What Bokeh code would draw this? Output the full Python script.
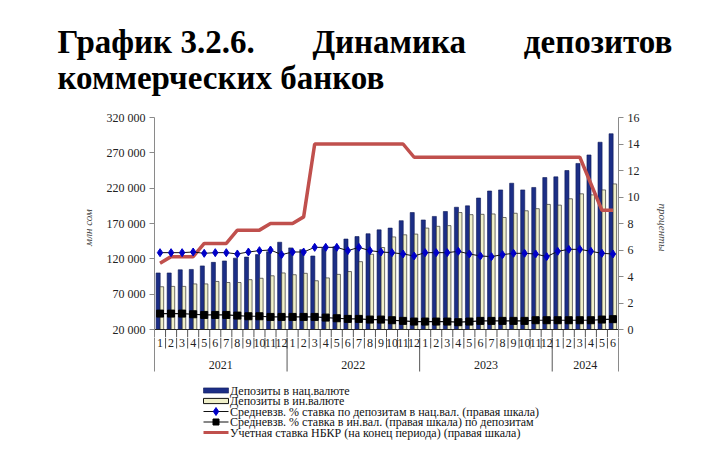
from bokeh.plotting import figure
from bokeh.layouts import column
from bokeh.models import (Range1d, LinearAxis, FixedTicker, Title, ColumnDataSource)
from bokeh.embed import file_html
from bokeh.resources import INLINE
from bokeh.core.properties import value

# ---------------- data ----------------
month_labels = ["1", "2", "3", "4", "5", "6", "7", "8", "9", "10", "11", "12",
                "1", "2", "3", "4", "5", "6", "7", "8", "9", "10", "11", "12",
                "1", "2", "3", "4", "5", "6", "7", "8", "9", "10", "11", "12",
                "1", "2", "3", "4", "5", "6"]
years = ["2021", "2022", "2023", "2024"]
year_months = [12, 12, 12, 6]

dep_nat = [100000, 100000, 104500, 105000, 110000, 115000, 117000, 121000, 122500, 126000, 130000, 143500,
           135500, 133000, 124000, 135000, 137000, 148000, 151500, 155500, 161000, 163500, 174000, 185500,
           175000, 180000, 187000, 193000, 195000, 206000, 216000, 217500, 227000, 217500, 221000, 235000,
           236000, 245000, 255000, 267000, 285000, 297000]
dep_for = [80500, 81000, 81000, 84500, 84500, 88000, 86500, 86500, 90500, 92500, 96000, 100000,
           97500, 99500, 89000, 93000, 98000, 102000, 116000, 126500, 136000, 151000, 154000, 155000,
           163500, 166000, 167000, 185500, 182500, 183000, 183500, 178500, 184500, 188000, 191000, 197000,
           196000, 205000, 212000, 210500, 217500, 226000]
rate_nat = [5.8, 5.8, 5.8, 5.85, 5.75, 5.8, 5.8, 5.7, 5.85, 5.95, 6.0, 5.65,
            5.85, 5.85, 6.2, 6.2, 6.2, 5.95, 6.2, 5.95, 5.85, 5.8, 5.7, 5.55,
            5.8, 5.8, 5.8, 5.9, 5.7, 5.55, 5.5, 5.65, 5.75, 5.75, 5.7, 5.5,
            5.9, 6.05, 6.05, 5.9, 5.75, 5.7]
rate_for = [1.2, 1.2, 1.2, 1.15, 1.1, 1.1, 1.1, 1.05, 1.0, 1.0, 0.95, 0.95,
            0.95, 0.95, 0.95, 0.9, 0.85, 0.8, 0.8, 0.75, 0.75, 0.7, 0.65, 0.6,
            0.6, 0.6, 0.6, 0.55, 0.6, 0.65, 0.65, 0.65, 0.65, 0.65, 0.7, 0.7,
            0.7, 0.7, 0.7, 0.7, 0.75, 0.78]
policy = [5.0, 5.5, 5.5, 5.5, 6.5, 6.5, 6.5, 7.5, 7.5, 7.5, 8.0, 8.0,
          8.0, 8.5, 14, 14, 14, 14, 14, 14, 14, 14, 14, 13,
          13, 13, 13, 13, 13, 13, 13, 13, 13, 13, 13, 13,
          13, 13, 13, 11, 9, 9]

left_ticks = [20000, 70000, 120000, 170000, 220000, 270000, 320000]
left_tick_labels = ["20 000", "70 000", "120 000", "170 000", "220 000", "270 000", "320 000"]
right_ticks = [0, 2, 4, 6, 8, 10, 12, 14, 16]

title_line1 = ["График 3.2.6.", "Динамика", "депозитов"]
title_line2 = "коммерческих банков"
legend_labels = ["Депозиты в нац.валюте",
                 "Депозиты в ин.валюте",
                 " Средневзв. % ставка по депозитам в нац.вал.  (правая шкала)",
                 "Средневзв. % ставка в ин.вал.  (правая шкала) по депозитам",
                 "Учетная ставка НБКР (на конец периода) (правая шкала)"]

SERIF = "Liberation Serif"

# ---------------- geometry (page pixels) ----------------
W, HPAGE = 720, 457
FL, FR = 154, 618          # plot frame left / right
FT = 116                   # y of 320 000 / 16 %
Y0 = 328                   # y of 20 000 / 0 %
MAIN_H = 336               # main figure ends a little below the base line
BOT_H = HPAGE - MAIN_H     # category band + legend figure

ymin_val, ymax_val = 20000, 320000
per_px = (ymax_val - ymin_val) / (Y0 - FT)
r_per_px = 16 / (Y0 - FT)
main_low = ymin_val - (MAIN_H - Y0) * per_px
n = len(month_labels)
xc = [i + 0.5 for i in range(n)]


def xd(px):                # page x -> month units
    return (px - FL) * n / (FR - FL)


def yb(py):                # page y -> bottom-figure units (pixels up from page bottom)
    return HPAGE - py


# ---------------- main chart ----------------
p = figure(width=W, height=MAIN_H, output_backend="svg", toolbar_location=None,
           x_range=Range1d(0, n), y_range=Range1d(main_low, ymax_val),
           min_border_left=FL, min_border_top=FT, min_border_right=W - FR,
           min_border_bottom=0, frame_width=FR - FL, frame_height=MAIN_H - FT)
p.extra_y_ranges = {"right": Range1d(-(MAIN_H - Y0) * r_per_px, 16)}
p.outline_line_color = None
p.grid.visible = False
p.xaxis.visible = False

nbsp = "\u00a0" * 7
p.add_layout(Title(text=nbsp.join(title_line1) + "\n" + title_line2, align="left",
                   offset=57 - FL, standoff=43, text_line_height=1.0,
                   text_font=SERIF, text_font_style="bold", text_font_size="33px",
                   text_color="#000000"), "above")

ax = p.yaxis[0]
ax.ticker = FixedTicker(ticks=left_ticks)
ax.major_label_overrides = {tv: tl for tv, tl in zip(left_ticks, left_tick_labels)}
ax.axis_line_color = "#8a8a8a"
ax.major_tick_line_color = "#8a8a8a"
ax.major_tick_in = 0
ax.major_tick_out = 5
ax.minor_tick_line_color = None
ax.major_label_text_font = SERIF
ax.major_label_text_font_size = "12px"
ax.major_label_text_color = "#222222"
ax.major_label_standoff = 4
ax.axis_label = "млн сом"
ax.axis_label_text_font = SERIF
ax.axis_label_text_font_style = "italic"
ax.axis_label_text_font_size = "11px"
ax.axis_label_standoff = 10

rax = LinearAxis(y_range_name="right", ticker=FixedTicker(ticks=right_ticks))
rax.axis_line_color = "#8a8a8a"
rax.major_tick_line_color = "#8a8a8a"
rax.major_tick_in = 0
rax.major_tick_out = 5
rax.minor_tick_line_color = None
rax.major_label_text_font = SERIF
rax.major_label_text_font_size = "12px"
rax.major_label_text_color = "#222222"
rax.major_label_standoff = 4
rax.axis_label = "проценты"
rax.axis_label_text_font = SERIF
rax.axis_label_text_font_style = "italic"
rax.axis_label_text_font_size = "11px"
rax.axis_label_standoff = 14
p.add_layout(rax, "right")

src = ColumnDataSource(dict(
    xb=[x - 0.17 for x in xc], xf=[x + 0.17 for x in xc], x=xc,
    nat=dep_nat, fx=dep_for, rn=rate_nat, rf=rate_for, pol=policy))

p.vbar(x="xb", top="nat", bottom=ymin_val, width=0.37, source=src,
       fill_color="#1c2e86", line_color="#0e1a58", line_width=0.6)
p.vbar(x="xf", top="fx", bottom=ymin_val, width=0.32, source=src,
       fill_color="#efefc9", line_color="#333333", line_width=0.7)

# base line and the top of the category separators
p.segment(x0=[0], x1=[n], y0=[ymin_val], y1=[ymin_val], line_color="#222222", line_width=1)
sep_x = [float(i) for i in range(1, n)]
p.segment(x0=sep_x, x1=sep_x, y0=[ymin_val] * len(sep_x), y1=[main_low] * len(sep_x),
          line_color="#555555", line_width=1)

p.line(x="x", y="pol", source=src, y_range_name="right", line_color="#c0504d", line_width=3.5)
p.line(x="x", y="rn", source=src, y_range_name="right", line_color="#111111", line_width=1)
p.scatter(x="x", y="rn", source=src, y_range_name="right", marker="diamond",
          size=8, fill_color="#0000c8", line_color="#0000c8")
p.line(x="x", y="rf", source=src, y_range_name="right", line_color="#111111", line_width=1.2)
p.scatter(x="x", y="rf", source=src, y_range_name="right", marker="square",
          size=7, fill_color="#000000", line_color="#000000")

# ---------------- category band + legend ----------------
b = figure(width=W, height=BOT_H, output_backend="svg", toolbar_location=None,
           x_range=p.x_range, y_range=Range1d(0, BOT_H),
           min_border_left=FL, min_border_right=W - FR, min_border_top=0,
           min_border_bottom=0, frame_width=FR - FL, frame_height=BOT_H)
b.outline_line_color = None
b.grid.visible = False
b.xaxis.visible = False
b.yaxis.visible = False
for side in ("left", "right"):
    edge = LinearAxis(ticker=FixedTicker(ticks=[]), bounds=(yb(370), BOT_H),
                      axis_line_color="#8a8a8a", major_label_text_font_size="0px",
                      major_tick_line_color=None, minor_tick_line_color=None)
    b.add_layout(edge, side)

b.segment(x0=sep_x, x1=sep_x, y0=[BOT_H] * len(sep_x), y1=[yb(347)] * len(sep_x),
          line_color="#555555", line_width=1)
ysep = []
acc = 0
for m in year_months[:-1]:
    acc += m
    ysep.append(float(acc))
b.segment(x0=ysep, x1=ysep, y0=[BOT_H] * len(ysep), y1=[yb(370)] * len(ysep),
          line_color="#555555", line_width=1)
b.text(x=xc, y=[yb(341)] * n, text=month_labels, text_align="center",
       text_baseline="middle", text_font=value(SERIF), text_font_size="12px",
       text_color="#222222")
ycx = []
acc = 0
for m in year_months:
    ycx.append(acc + m / 2)
    acc += m
b.text(x=ycx, y=[yb(363)] * len(years), text=years, text_align="center",
       text_baseline="middle", text_font=value(SERIF), text_font_size="12px",
       text_color="#222222")

# legend
rows = [yb(389), yb(399.5), yb(410), yb(420.5), yb(431)]
gx0, gx1, gxm = xd(203), xd(228), xd(215.5)
half = 2.6
b.quad(left=[gx0], right=[gx1], bottom=[rows[0] - half], top=[rows[0] + half],
       fill_color="#1c2e86", line_color="#0e1a58", line_width=0.6)
b.quad(left=[gx0], right=[gx1], bottom=[rows[1] - half], top=[rows[1] + half],
       fill_color="#efefc9", line_color="#111111", line_width=1)
b.segment(x0=[gx0], x1=[gx1], y0=[rows[2]], y1=[rows[2]], line_color="#111111", line_width=1)
b.scatter(x=[gxm], y=[rows[2]], marker="diamond", size=8, fill_color="#0000c8",
          line_color="#0000c8")
b.segment(x0=[gx0], x1=[gx1], y0=[rows[3]], y1=[rows[3]], line_color="#111111", line_width=1.2)
b.scatter(x=[gxm], y=[rows[3]], marker="square", size=6, fill_color="#000000",
          line_color="#000000")
b.segment(x0=[gx0], x1=[gx1], y0=[rows[4]], y1=[rows[4]], line_color="#c0504d", line_width=3)
b.text(x=[xd(229.5)] * 5, y=rows, text=legend_labels, text_align="left",
       text_baseline="middle", text_font=value(SERIF), text_font_size="12px",
       text_color="#111111")

layout = column(p, b, spacing=0)
open("out.html", "w").write(file_html(layout, INLINE))
